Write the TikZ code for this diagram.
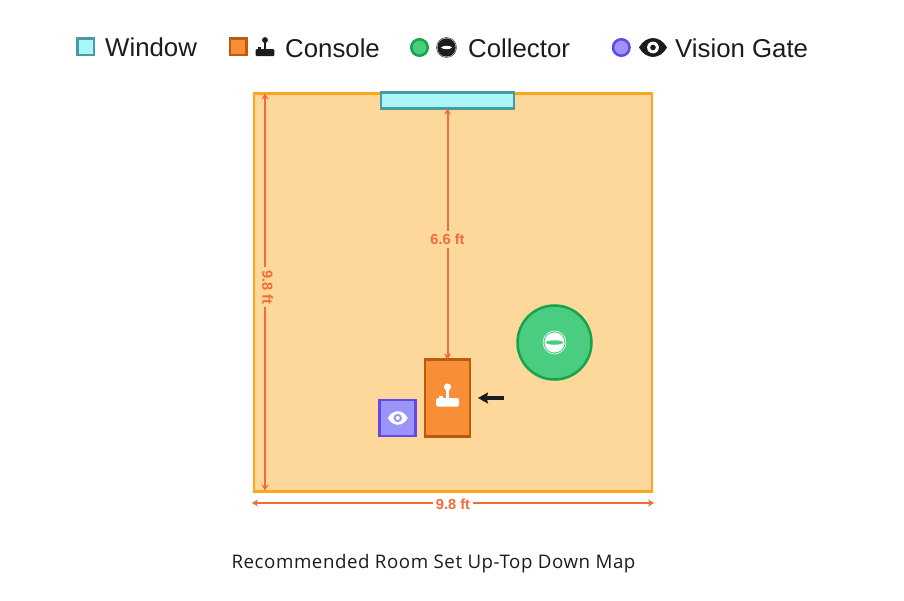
\documentclass[tikz,border=0pt]{standalone}
\usepackage{fontspec}
\setmainfont{Liberation Sans}
\newfontfamily\capfont[LetterSpace=3]{Open Sans}
\usetikzlibrary{arrows.meta}
\definecolor{roomfill}{HTML}{FED79B}
\definecolor{roomline}{HTML}{FBA61C}
\definecolor{winfill}{HTML}{A9F5F7}
\definecolor{winline}{HTML}{4A9AA3}
\definecolor{confill}{HTML}{F88F38}
\definecolor{conline}{HTML}{BC5A0E}
\definecolor{colfill}{HTML}{4ACD80}
\definecolor{colline}{HTML}{16A34A}
\definecolor{visfill}{HTML}{9A94FB}
\definecolor{visline}{HTML}{6347EA}
\definecolor{dimcol}{HTML}{F26B38}
\definecolor{ink}{HTML}{1C1C1E}
\tikzset{
  x=1pt,y=-1pt,
  box/.style={draw,line width=#1,inner sep=0pt,outer sep=0pt,minimum width=0pt},
  dimline/.style={draw=dimcol,line width=2pt,{Stealth[length=6pt,width=7pt]}-{Stealth[length=6pt,width=7pt]}},
  dimtext/.style={text=dimcol,font=\fontsize{14.6}{16}\selectfont\bfseries,inner sep=3pt},
  legend/.style={anchor=west,inner sep=0pt,text=ink,font=\fontsize{25.8}{30}\selectfont},
  swatch/.style={line width=2.5pt,inner sep=0pt,outer sep=0pt},
}
\newcommand{\eyeicon}[5]{%
  \fill[#4] (#1-1*#3,#2) .. controls (#1-0.5*#3,#2-0.9*#3) and (#1+0.5*#3,#2-0.9*#3) .. (#1+1*#3,#2)
     .. controls (#1+0.5*#3,#2+0.9*#3) and (#1-0.5*#3,#2+0.9*#3) .. (#1-1*#3,#2) -- cycle;
  \fill[#5] (#1,#2) circle[radius=0.42*#3];
  \fill[#4] (#1,#2) circle[radius=0.2*#3];
}
\newcommand{\joyicon}[4]{%
  \fill[#4,rounded corners=1.5*#3] (#1-11.5*#3,#2-0.5*#3) rectangle (#1+11.5*#3,#2+8*#3);
  \fill[#4] (#1-1.3*#3,#2-11*#3) rectangle (#1+1.3*#3,#2);
  \fill[#4] (#1,#2-11.5*#3) circle[radius=3.6*#3];
  \fill[#4] (#1-8.5*#3,#2-3*#3) rectangle (#1-4.5*#3,#2-0.5*#3);
}
\begin{document}
\begin{tikzpicture}
\useasboundingbox (0,0) rectangle (904,601);
\fill[white] (0,0) rectangle (904,601);

% Legend
\node[swatch,draw=winline,fill=winfill,minimum width=16.5pt,minimum height=16.5pt] (lw) at (85.5,46.8) {};
\node[legend] (lwt) at (105,47) {Window};
\node[swatch,draw=conline,fill=confill,minimum width=16.5pt,minimum height=16.5pt] (lc) at (238.3,46.8) {};
\joyicon{265}{49.5}{0.82}{ink}
\node[legend] (lct) at (285,48) {Console};
\node[swatch,draw=colline,fill=colfill,circle,minimum size=16.5pt] (lk) at (419.5,47.5) {};
\fill[ink] (446.5,47.5) circle[radius=9.2];
\draw[ink,line width=0.4pt] (446.5,47.5) circle[radius=10];
\fill[white] (441,47.5) .. controls (443,45.2) and (450,45.2) .. (452,47.5) .. controls (450,49.8) and (443,49.8) .. (441,47.5) -- cycle;
\node[legend] (lkt) at (468,48) {Collector};
\node[swatch,draw=visline,fill=visfill,circle,minimum size=16.5pt] (lv) at (621.3,47.5) {};
\eyeicon{653}{47.5}{14}{ink}{white}
\node[legend] (lvt) at (675,48) {Vision Gate};

% Room
\node[box=2.6pt,draw=roomline,fill=roomfill,minimum width=398pt,minimum height=398pt] (room) at (452.8,292.3) {};
% Window
\node[box=2.5pt,draw=winline,fill=winfill,minimum width=133pt,minimum height=16pt] (win) at (447.5,100.5) {};
% Console
\node[box=2.5pt,draw=conline,fill=confill,minimum width=45pt,minimum height=77pt] (con) at (447.5,398) {};
\joyicon{447.5}{398.5}{1}{white}
% Vision gate
\node[box=2.5pt,draw=visline,fill=visfill,minimum width=36pt,minimum height=36pt] (vis) at (397.5,418) {};
\eyeicon{397.8}{418}{10}{white}{visfill}
% Collector
\node[circle,draw=colline,fill=colfill,line width=2.5pt,minimum size=74pt,inner sep=0pt] (col) at (554.5,342.5) {};
\fill[white] (554.5,342.5) circle[radius=10];
\draw[white,line width=0.6pt] (554.5,342.5) circle[radius=11.5];
\fill[colfill] (545.5,342.5) .. controls (548,339.5) and (561,339.5) .. (563.5,342.5) .. controls (561,345.5) and (548,345.5) .. (545.5,342.5) -- cycle;
% Direction arrow
\coordinate (arrfrom) at (504,398);
\coordinate (arrto) at (478,398);
\draw[ink,line width=3.6pt,-{Stealth[length=10pt,width=11pt,inset=1.5pt]}] (arrfrom) -- (arrto);

% Dimensions
\draw[dimline] (win.south) -- node[dimtext,fill=roomfill,pos=0.522] (d1) {6.6 ft} (con.north);
\coordinate (ltop) at (265,93.5);
\coordinate (lbot) at (265,490.5);
\draw[dimline] (ltop) -- node[dimtext,fill=roomfill,pos=0.488,xshift=2.5pt,rotate=-90] (d2) {9.8 ft} (lbot);
\coordinate (bleft) at (252,503);
\coordinate (bright) at (654,503);
\draw[dimline] (bleft) -- node[dimtext,fill=white,yshift=-1pt] (d3) {9.8 ft} (bright);

% Caption
\node[inner sep=0pt,text=ink,font=\fontsize{18.7}{22}\selectfont\capfont] (cap) at (433.5,563.5) {Recommended Room Set Up-Top Down Map};
\end{tikzpicture}
\end{document}
